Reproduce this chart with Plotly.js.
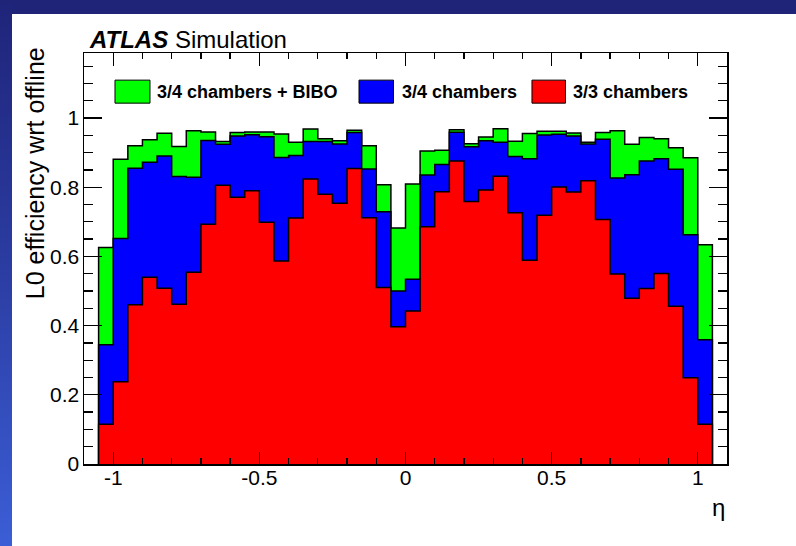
<!DOCTYPE html>
<html>
<head>
<meta charset="utf-8">
<script src="https://cdn.plot.ly/plotly-3.0.1.min.js"></script>
<style>
  html, body { margin: 0; padding: 0; background: #ffffff; }
  #page { position: relative; width: 796px; height: 546px; background: #ffffff; overflow: hidden; }
  #bandTop { position: absolute; left: 0; top: 0; width: 796px; height: 14px; background: #1f2479; }
  #bandLeft { position: absolute; left: 0; top: 0; width: 12px; height: 546px;
              background: linear-gradient(to bottom, #1f2479 0%, #2a3a9e 45%, #3b5ed6 100%); }
  #chart { position: absolute; left: 0; top: 0; width: 796px; height: 546px; }
</style>
</head>
<body>
<div id="page">
  <div id="bandTop"></div>
  <div id="bandLeft"></div>
  <div id="chart"></div>
</div>
<script>
// Bin edges in eta (42 bins of width 0.05)
const etaEdges = [-1.05, -1.00, -0.95, -0.90, -0.85, -0.80, -0.75, -0.70, -0.65, -0.60,
                  -0.55, -0.50, -0.45, -0.40, -0.35, -0.30, -0.25, -0.20, -0.15, -0.10,
                  -0.05, 0.00, 0.05, 0.10, 0.15, 0.20, 0.25, 0.30, 0.35, 0.40,
                  0.45, 0.50, 0.55, 0.60, 0.65, 0.70, 0.75, 0.80, 0.85, 0.90,
                  0.95, 1.00, 1.05];

// L0 efficiency per eta bin
const effBIBO = [0.626, 0.881, 0.920, 0.937, 0.956, 0.918, 0.963, 0.960, 0.932, 0.958,
                 0.960, 0.960, 0.954, 0.930, 0.968, 0.940, 0.934, 0.965, 0.920, 0.807,
                 0.682, 0.809, 0.905, 0.907, 0.966, 0.926, 0.945, 0.969, 0.933, 0.955,
                 0.962, 0.962, 0.957, 0.930, 0.958, 0.963, 0.924, 0.944, 0.940, 0.914,
                 0.885, 0.634];
const eff34 =   [0.345, 0.652, 0.855, 0.872, 0.890, 0.831, 0.829, 0.935, 0.924, 0.948,
                 0.952, 0.946, 0.886, 0.892, 0.932, 0.932, 0.925, 0.958, 0.853, 0.729,
                 0.500, 0.534, 0.835, 0.866, 0.959, 0.917, 0.934, 0.930, 0.889, 0.882,
                 0.951, 0.953, 0.948, 0.925, 0.939, 0.827, 0.836, 0.876, 0.882, 0.852,
                 0.663, 0.359];
const eff33 =   [0.115, 0.238, 0.460, 0.540, 0.508, 0.462, 0.554, 0.693, 0.806, 0.771,
                 0.790, 0.699, 0.587, 0.711, 0.824, 0.780, 0.754, 0.854, 0.712, 0.510,
                 0.397, 0.442, 0.686, 0.787, 0.876, 0.759, 0.792, 0.832, 0.726, 0.589,
                 0.719, 0.801, 0.786, 0.819, 0.707, 0.549, 0.479, 0.507, 0.551, 0.456,
                 0.249, 0.115];

const seriesNames = ['3/4 chambers + BIBO', '3/4 chambers', '3/3 chambers'];
const seriesColors = ['#00ff00', '#0000ff', '#ff0000'];

const xTickVals = [-1, -0.5, 0, 0.5, 1];
const xTickText = ['-1', '-0.5', '0', '0.5', '1'];
const yTickVals = [0, 0.2, 0.4, 0.6, 0.8, 1];
const yTickText = ['0', '0.2', '0.4', '0.6', '0.8', '1'];

// Turn per-bin contents into a closed step outline (ROOT-style histogram)
function stepTrace(values, name, color) {
  const n = values.length;
  const xs = [etaEdges[0]];
  const ys = [0];
  for (let i = 0; i < n; i++) { xs.push(etaEdges[i]); ys.push(values[i]); }
  xs.push(etaEdges[n]); ys.push(values[n - 1]);
  xs.push(etaEdges[n]); ys.push(0);
  return {
    type: 'scatter', mode: 'lines', name: name,
    x: xs, y: ys,
    line: { shape: 'hv', color: '#000000', width: 1.5 },
    fill: 'tozeroy', fillcolor: color,
    showlegend: false, hoverinfo: 'skip'
  };
}

const traces = [
  stepTrace(effBIBO, seriesNames[0], seriesColors[0]),
  stepTrace(eff34, seriesNames[1], seriesColors[1]),
  stepTrace(eff33, seriesNames[2], seriesColors[2])
];

const FONT = '"Liberation Sans", Arial, Helvetica, sans-serif';

// Hand-placed legend: colour boxes and labels above the histograms
const legendBoxes = [[0.0482, 0.1026], [0.4277, 0.4813], [0.6967, 0.7488]];
const legendTextX = [0.1104, 0.4907, 0.7574];
const shapes = legendBoxes.map((b, i) => ({
  type: 'rect', xref: 'paper', yref: 'paper',
  x0: b[0], x1: b[1], y0: 0.878, y1: 0.934,
  fillcolor: seriesColors[i], line: { color: '#000000', width: 1 }
}));
const annotations = seriesNames.map((s, i) => ({
  xref: 'paper', yref: 'paper', x: legendTextX[i], y: 0.906,
  xanchor: 'left', yanchor: 'middle', showarrow: false,
  text: '<b>' + s + '</b>', font: { family: FONT, size: 18, color: '#000000' }
}));
annotations.push({
  xref: 'paper', yref: 'paper', x: 0.005, y: 1.034,
  xanchor: 'left', yanchor: 'middle', showarrow: false,
  text: '<b><i>ATLAS</i></b> Simulation', font: { family: FONT, size: 24, color: '#000000' }
});
annotations.push({
  xref: 'paper', yref: 'paper', x: -0.077, y: 1.02,
  xanchor: 'center', yanchor: 'top', showarrow: false, textangle: -90,
  text: 'L0 efficiency wrt offline', font: { family: FONT, size: 25, color: '#000000' }
});
annotations.push({
  xref: 'paper', yref: 'paper', x: 1.0, y: -0.105,
  xanchor: 'right', yanchor: 'middle', showarrow: false,
  text: 'η', font: { family: FONT, size: 24, color: '#000000' }
});

const layout = {
  width: 796, height: 546,
  margin: { l: 84, r: 69, t: 53, b: 82, pad: 0 },
  paper_bgcolor: 'rgba(0,0,0,0)',
  plot_bgcolor: '#ffffff',
  font: { family: FONT, size: 21, color: '#000000' },
  xaxis: {
    range: [-1.1, 1.1], showgrid: false, zeroline: false,
    showline: true, linecolor: '#000000', linewidth: 1.5, mirror: 'ticks',
    tickmode: 'array', tickvals: xTickVals, ticktext: xTickText,
    ticks: 'inside', ticklen: 12.5, tickwidth: 1.3, tickcolor: '#000000',
    ticklabelstandoff: -6,
    minor: { tickmode: 'linear', tick0: 0, dtick: 0.1, ticks: 'inside', ticklen: 6.3, tickwidth: 1.3, tickcolor: '#000000' }
  },
  yaxis: {
    range: [0, 1.188], showgrid: false, zeroline: false,
    showline: true, linecolor: '#000000', linewidth: 1.5, mirror: 'ticks',
    tickmode: 'array', tickvals: yTickVals, ticktext: yTickText,
    ticks: 'inside', ticklen: 18, tickwidth: 1.3, tickcolor: '#000000',
    ticklabelstandoff: -1,
    minor: { tickmode: 'linear', tick0: 0, dtick: 0.05, ticks: 'inside', ticklen: 9, tickwidth: 1.3, tickcolor: '#000000' }
  },
  shapes: shapes,
  annotations: annotations
};

Plotly.newPlot('chart', traces, layout, { staticPlot: true });
</script>
</body>
</html>
